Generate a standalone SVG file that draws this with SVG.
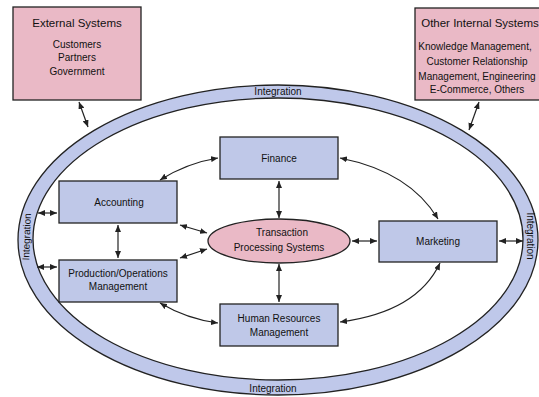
<svg xmlns="http://www.w3.org/2000/svg" width="539" height="397" viewBox="0 0 539 397">
<defs>
<marker id="ah" viewBox="0 0 7 6" markerWidth="7" markerHeight="6" refX="7" refY="3" orient="auto-start-reverse" markerUnits="userSpaceOnUse">
<path d="M0,0 L7,3 L0,6 z" fill="#222"/>
</marker>
<style>
.box{fill:#bfc8e8;stroke:#222;stroke-width:1.3}
.pink{fill:#eab9c6;stroke:#222;stroke-width:1.3}
.t{font-family:"Liberation Sans",Arial,sans-serif;font-size:10px;fill:#111;text-anchor:middle}
.h{font-size:11.5px}
.c{fill:none;stroke:#222;stroke-width:1.2;marker-start:url(#ah);marker-end:url(#ah)}
</style>
</defs>
<rect width="539" height="397" fill="#fff"/>
<g id="ring">
<path d="M18,240 A260,155 0 1,0 538,240 A260,155 0 1,0 18,240 Z M33,239 A245,141 0 1,1 523,239 A245,141 0 1,1 33,239 Z" fill="#bfc8ea" fill-rule="evenodd" stroke="#222" stroke-width="1.3"/>
<text class="t" x="278" y="95">Integration</text>
<text class="t" x="273" y="392">Integration</text>
<text class="t" transform="translate(30,237) rotate(-88)">Integration</text>
<text class="t" transform="translate(527,236) rotate(90)">Integration</text>
</g>
<g id="external">
<rect class="pink" x="13" y="7" width="128" height="93"/>
<text class="t h" x="77" y="27">External Systems</text>
<text class="t" x="77" y="48">Customers</text>
<text class="t" x="77" y="61">Partners</text>
<text class="t" x="77" y="75">Government</text>
</g>
<g id="otherinternal">
<rect class="pink" x="415" y="8" width="130" height="92"/>
<text class="t h" x="480" y="27">Other Internal Systems</text>
<text class="t" x="475" y="50" font-size="9.5">Knowledge Management,</text>
<text class="t" x="477" y="65" font-size="9.5">Customer Relationship</text>
<text class="t" x="477" y="80" font-size="9.5">Management, Engineering</text>
<text class="t" x="477" y="93" font-size="9.5">E-Commerce, Others</text>
</g>
<g id="finance">
<rect class="box" x="220" y="137" width="118" height="42"/>
<text class="t" x="279" y="162">Finance</text>
</g>
<g id="accounting">
<rect class="box" x="59" y="181" width="118" height="42"/>
<text class="t" x="119" y="206">Accounting</text>
</g>
<g id="production">
<rect class="box" x="59" y="260" width="118" height="42"/>
<text class="t" x="118" y="277" font-size="10.5">Production/Operations</text>
<text class="t" x="118" y="290" font-size="10.5">Management</text>
</g>
<g id="tps">
<ellipse cx="279" cy="241" rx="71" ry="22" class="pink"/>
<text class="t" x="282" y="236" font-size="10.5">Transaction</text>
<text class="t" x="279" y="251" font-size="10.5">Processing Systems</text>
</g>
<g id="marketing">
<rect class="box" x="379" y="221" width="118" height="41"/>
<text class="t" x="438" y="245">Marketing</text>
</g>
<g id="hr">
<rect class="box" x="220" y="304" width="118" height="42"/>
<text class="t" x="279" y="322">Human Resources</text>
<text class="t" x="279" y="336">Management</text>
</g>
<g id="connectors">
<path class="c" d="M79,102 L88,127"/>
<path class="c" d="M479,102 L469,130"/>
<path class="c" d="M279,181 L279,218"/>
<path class="c" d="M279,264 L279,302"/>
<path class="c" d="M118,225 L118,258"/>
<path class="c" d="M180,225 L207,233"/>
<path class="c" d="M180,258 L207,249"/>
<path class="c" d="M352,241 L377,241"/>
<path class="c" d="M499,241 L523,241"/>
<path class="c" d="M38,213 L57,213"/>
<path class="c" d="M37,267 L57,267"/>
<path class="c" d="M160,180 Q187,163 218,158"/>
<path class="c" d="M340,158 Q410,172 438,219"/>
<path class="c" d="M440,263 Q417,312 340,322"/>
<path class="c" d="M160,303 Q187,319 218,323"/>
</g>
</svg>
